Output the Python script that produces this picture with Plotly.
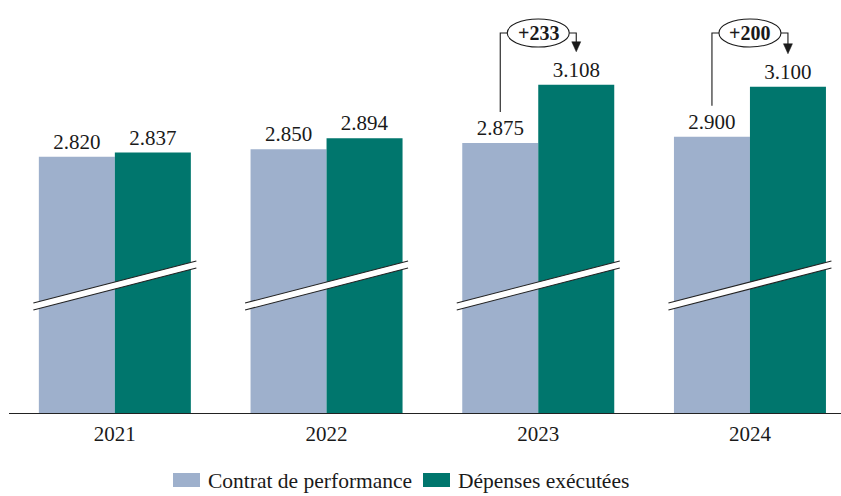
import plotly.graph_objects as go

# Data
years = ["2021", "2022", "2023", "2024"]
contrat = [2820, 2850, 2875, 2900]
depenses = [2837, 2894, 3108, 3100]
series_names = ["Contrat de performance", "Dépenses exécutées"]

# Gap annotations shown for these years
gap_years = ["2023", "2024"]

COL_LIGHT = "#9eb0cc"
COL_GREEN = "#00766d"
FONT = "Liberation Serif"
INK = "#1a1a1a"

# Figure geometry (pixels)
W, H = 841, 496
M_L, M_R, M_T, M_B = 9, 0, 0, 83
PLOT_W = W - M_L - M_R
PLOT_H = H - M_T - M_B

# Broken value axis: bottom of axis starts well above zero
Y0 = 1795
UNITS_PER_PX = 4.0
Y1 = Y0 + PLOT_H * UNITS_PER_PX
X0 = -0.5
PX_PER_CAT = 211.7
X1 = X0 + PLOT_W / PX_PER_CAT

BAR_W_PX = 76
half_bar = (BAR_W_PX / 2) / PX_PER_CAT


def px_x(px):
    return (px - M_L) / PLOT_W


def px_y(py):
    return (H - M_B - py) / PLOT_H


fig = go.Figure()
for name, vals, col in [(series_names[0], contrat, COL_LIGHT),
                        (series_names[1], depenses, COL_GREEN)]:
    fig.add_trace(go.Bar(
        x=years, y=vals, name=name,
        marker=dict(color=col, line=dict(width=0)),
        text=vals, texttemplate="%{y:,}", textposition="outside",
        textfont=dict(family=FONT, size=21, color=INK),
        cliponaxis=False, showlegend=False,
    ))

shapes = []

# Axis-break bands across each pair of bars
band_dx = 0.385
band_lo, band_hi, band_half = 2221, 2389, 14
for i in range(len(years)):
    xa, xb = i - band_dx, i + band_dx
    shapes.append(dict(
        type="path", xref="x", yref="y",
        path=(f"M{xa},{band_lo - band_half} L{xb},{band_hi - band_half} "
              f"L{xb},{band_hi + band_half} L{xa},{band_lo + band_half} Z"),
        fillcolor="white", line=dict(width=0), layer="above"))
    for off in (-band_half, band_half):
        shapes.append(dict(
            type="line", xref="x", yref="y",
            x0=xa, y0=band_lo + off, x1=xb, y1=band_hi + off,
            line=dict(color="#222222", width=1.1), layer="above"))

annotations = []

# Difference bubbles with connectors
bubble_y = Y0 + (H - M_B - 33) * UNITS_PER_PX
ell_hw = 31 / PX_PER_CAT
ell_hh = 14 * UNITS_PER_PX
for yr in gap_years:
    i = years.index(yr)
    c, d = contrat[i], depenses[i]
    xl, xr = i - half_bar, i + half_bar
    line_bottom = c + 124
    tip = d + 132
    shapes.append(dict(
        type="path", xref="x", yref="y",
        path=f"M{xl},{line_bottom} L{xl},{bubble_y} L{i - ell_hw},{bubble_y}",
        line=dict(color=INK, width=1.1)))
    shapes.append(dict(
        type="path", xref="x", yref="y",
        path=f"M{i + ell_hw},{bubble_y} L{xr},{bubble_y} L{xr},{tip + 30}",
        line=dict(color=INK, width=1.1)))
    ah_w = 4.5 / PX_PER_CAT
    ah_h = 10 * UNITS_PER_PX
    shapes.append(dict(
        type="path", xref="x", yref="y",
        path=f"M{xr - ah_w},{tip + ah_h} L{xr + ah_w},{tip + ah_h} L{xr},{tip} Z",
        fillcolor=INK, line=dict(color=INK, width=0.5)))
    shapes.append(dict(
        type="circle", xref="x", yref="y",
        x0=i - ell_hw, x1=i + ell_hw,
        y0=bubble_y - ell_hh, y1=bubble_y + ell_hh,
        fillcolor="white", line=dict(color=INK, width=1.1)))
    annotations.append(dict(
        x=i, y=bubble_y, xref="x", yref="y", showarrow=False,
        text=f"<b>+{d - c}</b>",
        font=dict(family=FONT, size=20, color=INK)))

# Legend drawn as swatches and labels below the axis
legend_items = [(series_names[0], COL_LIGHT, 173), (series_names[1], COL_GREEN, 423)]
for name, col, sx in legend_items:
    shapes.append(dict(
        type="rect", xref="paper", yref="paper",
        x0=px_x(sx), x1=px_x(sx + 27), y0=px_y(487), y1=px_y(473),
        fillcolor=col, line=dict(width=0)))
    annotations.append(dict(
        x=px_x(sx + 33), y=px_y(481), xref="paper", yref="paper",
        xanchor="left", yanchor="middle", showarrow=False, text=name,
        font=dict(family=FONT, size=21.5, color=INK)))

fig.update_layout(
    width=W, height=H,
    margin=dict(l=M_L, r=M_R, t=M_T, b=M_B, pad=0),
    paper_bgcolor="white", plot_bgcolor="white",
    separators=",.",
    barmode="group", bargap=1 - 2 * BAR_W_PX / PX_PER_CAT, bargroupgap=0,
    showlegend=False,
    shapes=shapes, annotations=annotations,
    xaxis=dict(
        type="category", range=[X0, X1], showgrid=False,
        showline=True, linecolor="#222222", linewidth=1,
        ticks="", ticklabelstandoff=2,
        tickfont=dict(family=FONT, size=21, color=INK),
    ),
    yaxis=dict(range=[Y0, Y1], visible=False, showgrid=False, zeroline=False),
)

fig.write_html("out.html")
